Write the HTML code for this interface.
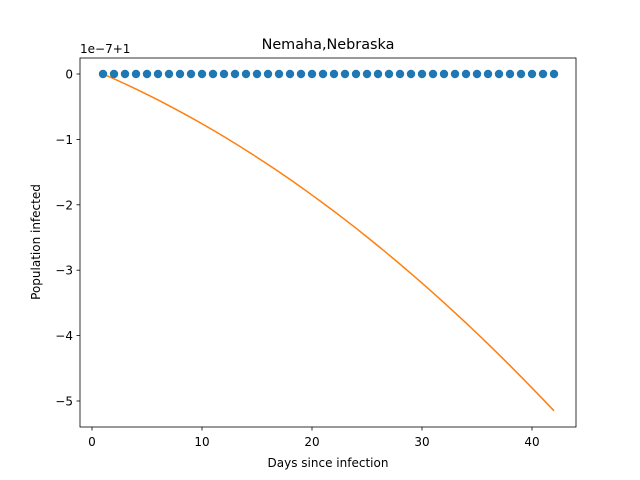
<!DOCTYPE html>
<html><head><meta charset="utf-8">
<style>
body{margin:0;background:#fff;}
svg{display:block;font-family:"DejaVu Sans","Liberation Sans",sans-serif;}
</style></head>
<body>
<svg id="chart" width="640" height="480" viewBox="0 0 640 480">
<rect width="640" height="480" fill="#fff"/>
<text x="328" y="49" font-size="14.4" text-anchor="middle">Nemaha,Nebraska</text>
<text x="80" y="53" font-size="12">1e−7+1</text>
<text x="328" y="467" font-size="12" text-anchor="middle">Days since infection</text>
<text x="0" y="0" font-size="12" text-anchor="middle" transform="translate(40,242) rotate(-90)">Population infected</text>
<g id="xt"></g><g id="yt"></g><g id="marks"></g>
<rect x="80" y="58" width="496" height="369" fill="none" stroke="#000" stroke-width="0.8"/>
</svg>
<script>
const days = [1,2,3,4,5,6,7,8,9,10,11,12,13,14,15,16,17,18,19,20,21,22,23,24,25,26,27,28,29,30,31,32,33,34,35,36,37,38,39,40,41,42];
const actual = [0,0,0,0,0,0,0,0,0,0,0,0,0,0,0,0,0,0,0,0,0,0,0,0,0,0,0,0,0,0,0,0,0,0,0,0,0,0,0,0,0,0];
const model = [0,-0.074,-0.151,-0.231,-0.313,-0.397,-0.484,-0.574,-0.666,-0.761,-0.858,-0.958,-1.061,-1.166,-1.274,-1.384,-1.497,-1.612,-1.730,-1.851,-1.974,-2.099,-2.228,-2.358,-2.492,-2.628,-2.766,-2.907,-3.051,-3.197,-3.346,-3.497,-3.651,-3.807,-3.966,-4.128,-4.292,-4.458,-4.628,-4.800,-4.974,-5.150];
const xTicks = [0,10,20,30,40];
const yTicks = [0,-1,-2,-3,-4,-5];
const yTickLabels = ["0","−1","−2","−3","−4","−5"];

const NS="http://www.w3.org/2000/svg";
function sx(v){return 92+v*11.0;}
function sy(v){return 74-v*65.4;}
function mk(tag,attrs,parent){const e=document.createElementNS(NS,tag);for(const k in attrs)e.setAttribute(k,attrs[k]);parent.appendChild(e);return e;}
const xt=document.getElementById('xt'),yt=document.getElementById('yt'),mg=document.getElementById('marks');
xTicks.forEach(t=>{
  const l=mk('line',{x1:sx(t),x2:sx(t),y1:427,y2:430.5,stroke:'#000','stroke-width':0.8},xt);
  
  
  const tx=mk('text',{x:sx(t),y:446,'font-size':12,'text-anchor':'middle'},xt);
  tx.textContent=t;
  
  
});
yTicks.forEach((t,i)=>{
  const l=mk('line',{x1:76.5,x2:80,y1:sy(t),y2:sy(t),stroke:'#000','stroke-width':0.8},yt);
  
  
  const tx=mk('text',{x:73,y:sy(t)+4.5,'font-size':12,'text-anchor':'end'},yt);
  tx.textContent=yTickLabels[i];
  
  
});
const pts=days.map((d,i)=>sx(d)+','+sy(model[i])).join(' ');
const pl=mk('polyline',{points:pts,fill:'none',stroke:'#ff7f0e','stroke-width':1.5},mg);


days.forEach((d,i)=>{
  const c=mk('circle',{cx:sx(d),cy:sy(actual[i]),r:4.2,fill:'#1f77b4'},mg);
  
  
});
</script>
</body></html>
